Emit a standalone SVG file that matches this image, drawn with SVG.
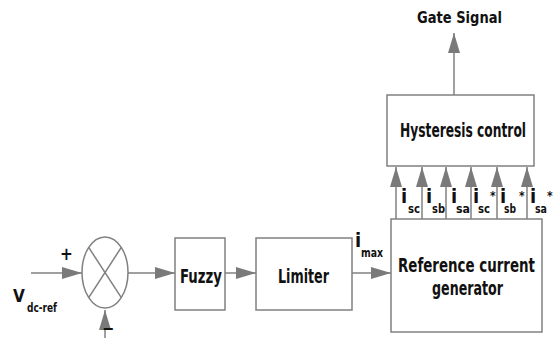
<svg xmlns="http://www.w3.org/2000/svg" width="554" height="338" viewBox="0 0 554 338">
<style>
.box{fill:#fff;stroke:#808080;stroke-width:1.5}
.ln{stroke:#808080;stroke-width:1.5;fill:none}
.t{font-family:"DejaVu Sans Condensed","DejaVu Sans","Liberation Sans",sans-serif;font-weight:bold;fill:#111}
.s{font-size:12px}
</style>
<defs>
<marker id="ah" markerUnits="userSpaceOnUse" markerWidth="20" markerHeight="12" refX="20" refY="6" orient="auto">
<path d="M0,0 L20,6 L0,12 z" fill="#7a7a7a"/>
</marker>
</defs>
<rect width="554" height="338" fill="#fff"/>
<g id="connectors">
<line class="ln" x1="31" y1="273" x2="82" y2="273" marker-end="url(#ah)"/>
<line class="ln" x1="105" y1="338" x2="105" y2="310" marker-end="url(#ah)"/>
<line class="ln" x1="128" y1="273" x2="175" y2="273" marker-end="url(#ah)"/>
<line class="ln" x1="225" y1="273" x2="256" y2="273" marker-end="url(#ah)"/>
<line class="ln" x1="352" y1="273" x2="391" y2="273" marker-end="url(#ah)"/>
<line class="ln" x1="396" y1="219" x2="396" y2="167" marker-end="url(#ah)"/>
<line class="ln" x1="422" y1="219" x2="422" y2="167" marker-end="url(#ah)"/>
<line class="ln" x1="446" y1="219" x2="446" y2="167" marker-end="url(#ah)"/>
<line class="ln" x1="471" y1="219" x2="471" y2="167" marker-end="url(#ah)"/>
<line class="ln" x1="497" y1="219" x2="497" y2="167" marker-end="url(#ah)"/>
<line class="ln" x1="527" y1="219" x2="527" y2="167" marker-end="url(#ah)"/>
<line class="ln" x1="454" y1="95" x2="454" y2="33" marker-end="url(#ah)"/>
</g>
<g id="sum">
<ellipse class="box" cx="105" cy="272.5" rx="23" ry="35.5"/>
<line class="ln" x1="88.7" y1="247.4" x2="121.3" y2="297.6"/>
<line class="ln" x1="121.3" y1="247.4" x2="88.7" y2="297.6"/>
</g>
<g id="fuzzy">
<rect class="box" x="175" y="238" width="50" height="72"/>
<text class="t" x="201" y="283" font-size="19" text-anchor="middle" textLength="42" lengthAdjust="spacingAndGlyphs">Fuzzy</text>
</g>
<g id="limiter">
<rect class="box" x="256" y="238" width="96" height="72"/>
<text class="t" x="303.5" y="283" font-size="19" text-anchor="middle" textLength="51" lengthAdjust="spacingAndGlyphs">Limiter</text>
</g>
<g id="refgen">
<rect class="box" x="391" y="219" width="151" height="113"/>
<text class="t" x="466.5" y="272" font-size="19" text-anchor="middle" textLength="137" lengthAdjust="spacingAndGlyphs">Reference current</text>
<text class="t" x="467.5" y="295" font-size="19" text-anchor="middle" textLength="71" lengthAdjust="spacingAndGlyphs">generator</text>
</g>
<g id="hysteresis">
<rect class="box" x="387" y="95" width="147" height="71"/>
<text class="t" x="463" y="137" font-size="19" text-anchor="middle" textLength="126" lengthAdjust="spacingAndGlyphs">Hysteresis control</text>
</g>
<g id="labels">
<text class="t" x="459.5" y="23" font-size="15" text-anchor="middle" textLength="85" lengthAdjust="spacingAndGlyphs">Gate Signal</text>
<text class="t" x="60" y="260" font-size="17">+</text>
<text class="t" x="102" y="334" font-size="16">−</text>
<text class="t" x="13" y="302" font-size="17">V</text>
<text class="t s" x="27" y="312" textLength="30" lengthAdjust="spacingAndGlyphs">dc-ref</text>
<text class="t" x="355" y="247" font-size="20">i</text>
<text class="t s" x="361" y="257" textLength="22" lengthAdjust="spacingAndGlyphs">max</text>
<text class="t" x="401" y="203" font-size="20">i</text>
<text class="t s" x="408" y="213" textLength="12" lengthAdjust="spacingAndGlyphs">sc</text>
<text class="t" x="426" y="203" font-size="20">i</text>
<text class="t s" x="432" y="213" textLength="13" lengthAdjust="spacingAndGlyphs">sb</text>
<text class="t" x="451" y="203" font-size="20">i</text>
<text class="t s" x="456" y="213" textLength="14" lengthAdjust="spacingAndGlyphs">sa</text>
<text class="t" x="473" y="203" font-size="20">i</text>
<text class="t s" x="478" y="213" textLength="12" lengthAdjust="spacingAndGlyphs">sc</text>
<text class="t" x="490" y="200" font-size="12">*</text>
<text class="t" x="500" y="203" font-size="20">i</text>
<text class="t s" x="504" y="213" textLength="12" lengthAdjust="spacingAndGlyphs">sb</text>
<text class="t" x="519" y="200" font-size="12">*</text>
<text class="t" x="530" y="203" font-size="20">i</text>
<text class="t s" x="535" y="213" textLength="12" lengthAdjust="spacingAndGlyphs">sa</text>
<text class="t" x="547" y="200" font-size="12">*</text>
</g>
</svg>
